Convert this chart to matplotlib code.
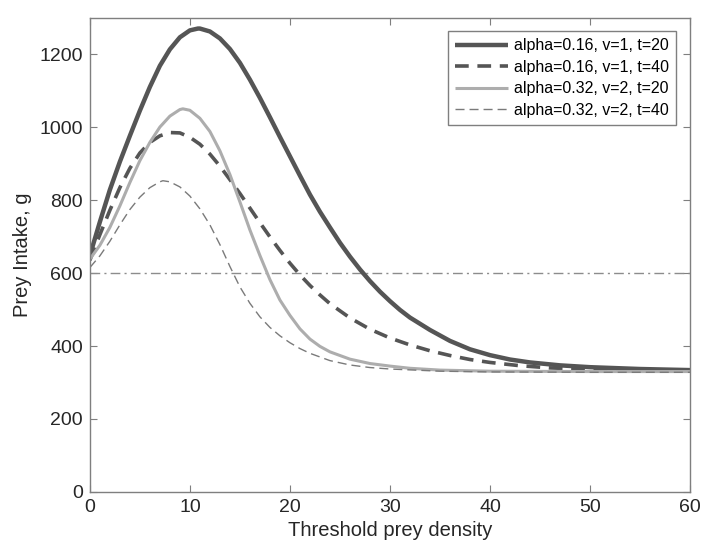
import matplotlib
matplotlib.use("Agg")
import matplotlib.pyplot as plt

plt.rcParams['font.family'] = ['Liberation Sans', 'DejaVu Sans']

# Series 1: alpha=0.16, v=1, t=20
x1 = [0, 1, 2, 3, 4, 5, 6, 7, 8, 9, 10, 10.8, 11, 12, 13, 14, 15, 16, 17, 18, 19, 20,
      21, 22, 23, 24, 25, 26, 27, 28, 29, 30, 31, 32, 34, 36, 38, 40, 42, 44, 47, 50, 55, 60]
y1 = [648, 740, 828, 905, 976, 1045, 1110, 1168, 1213, 1246, 1265, 1270, 1270, 1262, 1243,
      1214, 1176, 1130, 1080, 1027, 973, 920,
      867, 815, 768, 725, 683, 645, 610, 578, 549, 523, 499, 478, 444, 414, 391, 375, 363,
      355, 347, 342, 337, 334]

# Series 2: alpha=0.16, v=1, t=40
x2 = [0, 1, 2, 3, 4, 5, 6, 7, 8, 9, 10, 11, 12, 13, 14, 15, 16, 17, 18, 19, 20, 21,
      22, 23, 24, 26, 28, 30, 32, 34, 36, 38, 40, 43, 46, 50, 55, 60]
y2 = [635, 705, 772, 834, 887, 929, 958, 976, 985, 984, 972, 953, 926, 893, 856, 818, 778,
      738, 699, 662, 627, 595,
      566, 540, 516, 477, 446, 422, 403, 387, 374, 363, 355, 346, 340, 336, 333, 332]

# Series 3: alpha=0.32, v=2, t=20
x3 = [0, 1, 2, 3, 4, 5, 6, 7, 8, 9, 9.3, 10, 11, 12, 13, 14, 15, 16, 17, 18, 19, 20,
      21, 22, 23, 24, 26, 28, 30, 32, 35, 40, 50, 60]
y3 = [638, 676, 725, 784, 848, 908, 958, 1000, 1030, 1048, 1050, 1046, 1024, 988, 935, 870,
      795, 718, 648, 582, 526, 484,
      447, 419, 399, 384, 364, 352, 345, 339, 334, 331, 330, 330]

# Series 4: alpha=0.32, v=2, t=40
x4 = [0, 1, 2, 3, 4, 5, 6, 7, 7.3, 8, 9, 10, 11, 12, 13, 14, 15, 16, 17, 18, 19, 20, 21,
      22, 24, 26, 28, 30, 35, 40, 50, 60]
y4 = [615, 647, 687, 732, 774, 808, 834, 850, 853, 850, 836, 811, 776, 732, 678, 618, 562,
      517, 480, 451, 428, 409, 393,
      380, 360, 348, 341, 337, 331, 329, 328, 328]

labels = ['alpha=0.16, v=1, t=20', 'alpha=0.16, v=1, t=40',
          'alpha=0.32, v=2, t=20', 'alpha=0.32, v=2, t=40']
threshold = 600
xticks = [0, 10, 20, 30, 40, 50, 60]
yticks = [0, 200, 400, 600, 800, 1000, 1200]

fig = plt.figure(figsize=(7.02, 5.5), dpi=100)
ax = fig.add_axes([0.128, 0.1055, 0.855, 0.8625])

kw = dict(solid_joinstyle='round', dash_joinstyle='round', solid_capstyle='butt')
ax.axhline(threshold, color='#8c8c8c', lw=1.0, ls=(0, (7, 3, 1.5, 3)))
ax.plot(x1, y1, color='#555555', lw=3.2, label=labels[0], **kw)
ax.plot(x2, y2, color='#555555', lw=2.6, ls=(0, (3.8, 2.4)), label=labels[1], **kw)
ax.plot(x3, y3, color='#adadad', lw=2.2, label=labels[2], **kw)
ax.plot(x4, y4, color='#7a7a7a', lw=1.0, ls=(0, (6.5, 3.6)), label=labels[3], **kw)

ax.set_xlim(0, 60)
ax.set_ylim(0, 1300)
ax.set_xticks(xticks)
ax.set_yticks(yticks)
ax.tick_params(direction='in', length=5, width=0.8, top=True, right=True,
               labelsize=14, colors='#7f7f7f', labelcolor='#262626', pad=5)
for s in ax.spines.values():
    s.set_color('#7f7f7f')
    s.set_linewidth(1.0)

ax.set_xlabel('Threshold prey density', fontsize=14.5, color='#262626', labelpad=4)
ax.set_ylabel('Prey Intake, g', fontsize=14.5, color='#262626', labelpad=5)

leg = ax.legend(loc='upper right', fontsize=11.5, frameon=True, fancybox=False,
                edgecolor='#7f7f7f', framealpha=1, handlelength=3.3,
                borderaxespad=0.85, labelspacing=0.4, handletextpad=0.4,
                borderpad=0.45)
leg.get_frame().set_linewidth(1.0)

fig.savefig('out.png', dpi=100)
